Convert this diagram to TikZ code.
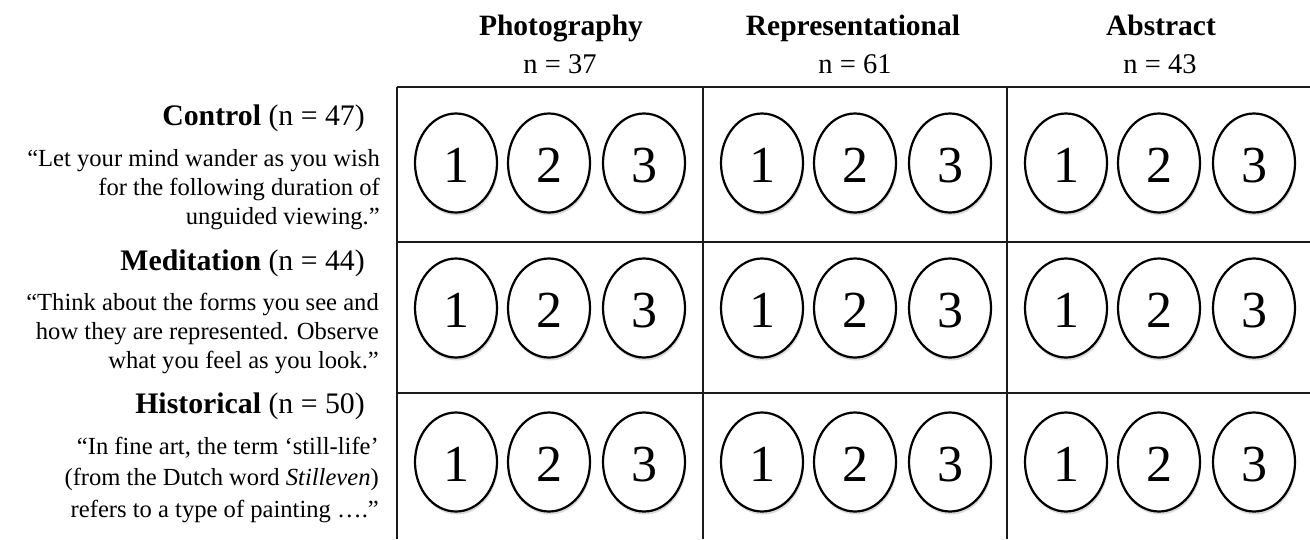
\documentclass[tikz,border=0pt]{standalone}
\usepackage{fontspec}
\setmainfont{Liberation Serif}
\usetikzlibrary{shapes.geometric, shadows}
\definecolor{rule}{HTML}{1a1a1a}

\tikzset{
  gridline/.style={rule, line width=2pt},
  oval/.style={ellipse, draw=black, line width=2.2pt, fill=white,
    minimum width=82pt, minimum height=99pt, inner sep=0pt,
    text height=38pt, text depth=0pt,
    font=\fontsize{52}{52}\selectfont,
    drop shadow={opacity=0.3, shadow xshift=1pt, shadow yshift=-3pt}},
  colhead/.style={anchor=base, inner sep=0pt, font=\fontsize{29.5}{29.5}\selectfont\bfseries},
  colsize/.style={anchor=base, inner sep=0pt, font=\fontsize{28.5}{28.5}\selectfont},
  grphead/.style={anchor=base east, inner sep=0pt, font=\fontsize{29.8}{29.8}\selectfont},
  quoteline/.style={anchor=base east, inner sep=0pt, font=\fontsize{24.6}{24.6}\selectfont},
}

\begin{document}
\begin{tikzpicture}[x=1pt, y=-1pt]
    \useasboundingbox (0,0) rectangle (1310,539);

    % column heads
    \node[colhead] (hphoto) at (561,35) {Photography};
    \node[colsize] (nphoto) at (560,73) {n = 37};
    \node[colhead] (hrepr) at (853,35) {Representational};
    \node[colsize] (nrepr) at (855,73) {n = 61};
    \node[colhead] (habst) at (1161,35) {Abstract};
    \node[colsize] (nabst) at (1160,73) {n = 43};

    % grid
    \draw[gridline] (397,87) -- (1310,87);
    \foreach \y in {242, 393} {
      \draw[gridline] (397,\y) -- (1310,\y);
    }
    \foreach \x in {397, 703, 1007} {
      \draw[gridline] (\x,87) -- (\x,539);
    }

    % three numbered ovals per cell
    \foreach \c/\x in {1/397, 2/703, 3/1007} {
      \foreach \r/\y in {1/163, 2/308, 3/462} {
        \foreach \k/\dx in {1/59, 2/152, 3/247} {
          \node[oval] (o-\c-\r-\k) at (\x+\dx,\y) {\k};
        }
      }
    }

    % Control
    \node[grphead] (gctrl) at (365,125) {\textbf{Control} (n = 47)};
    \node[quoteline] (qctrl1) at (380,166) {“Let your mind wander as you wish};
    \node[quoteline] (qctrl2) at (380,195) {for the following duration of};
    \node[quoteline] (qctrl3) at (380,224) {unguided viewing.”};

    % Meditation
    \node[grphead] (gmed) at (365,270) {\textbf{Meditation} (n = 44)};
    \node[quoteline] (qmed1) at (379,310) {“Think about the forms you see and};
    \node[quoteline] (qmed2) at (379,339) {how they are represented. Observe};
    \node[quoteline] (qmed3) at (379,368) {what you feel as you look.”};

    % Historical
    \node[grphead] (ghist) at (365,413) {\textbf{Historical} (n = 50)};
    \node[quoteline] (qhist1) at (379,454) {“In fine art, the term ‘still-life’};
    \node[quoteline] (qhist2) at (379,485) {(from the Dutch word \textit{Stilleven})};
    \node[quoteline] (qhist3) at (379,517) {refers to a type of painting ….”};
  \end{tikzpicture}
\end{document}
